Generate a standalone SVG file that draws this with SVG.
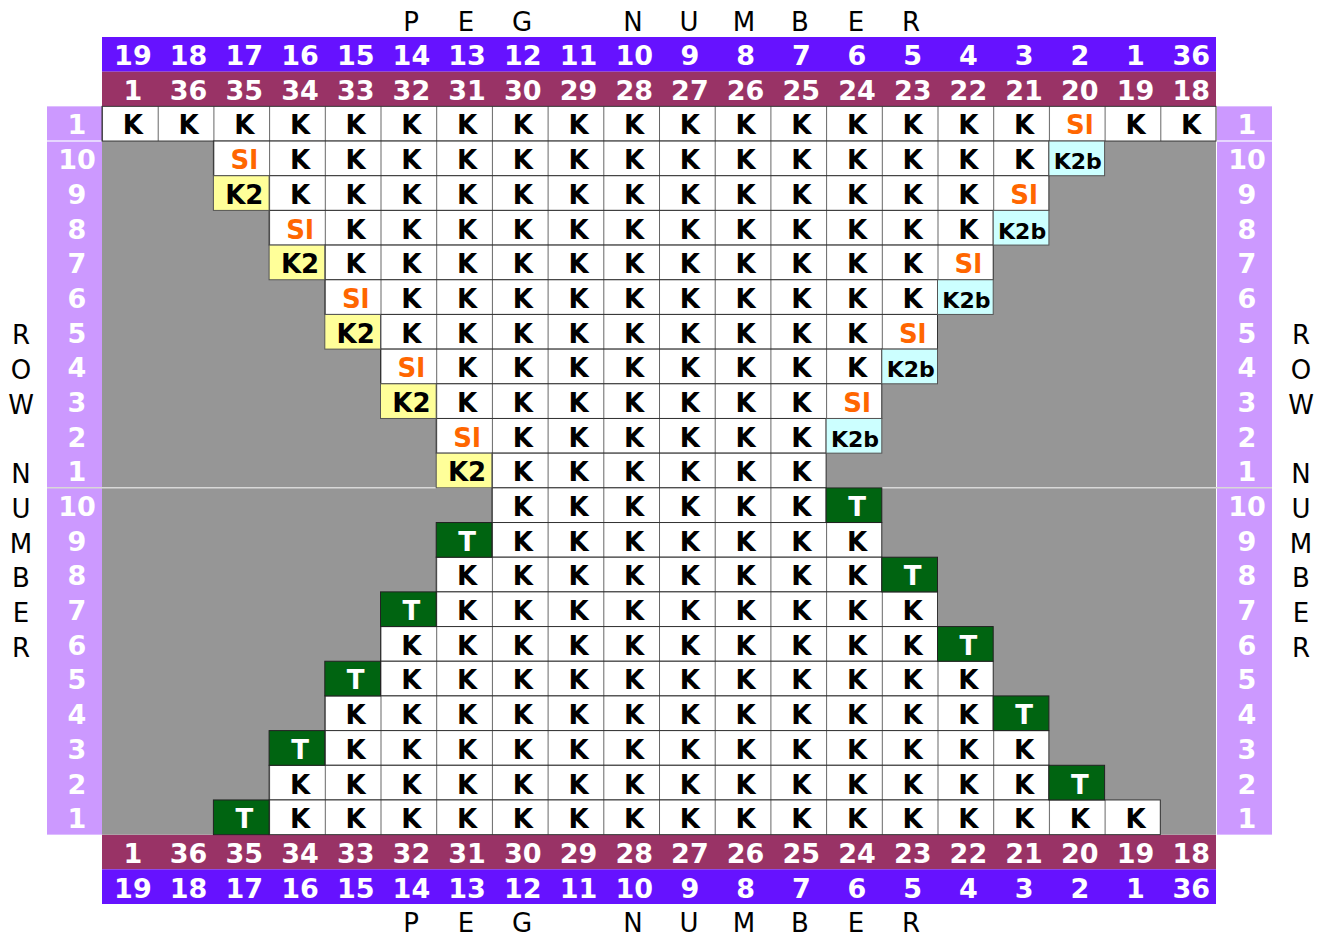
<svg xmlns="http://www.w3.org/2000/svg" width="1323" height="936" viewBox="0 0 1323 936">
<style>
.bg{fill:#fff}
.hd text{font:bold 27px "DejaVu Sans",Verdana,sans-serif;fill:#fff;text-anchor:middle}
.lb text{font:bold 27px "DejaVu Sans",Verdana,sans-serif;fill:#fff;text-anchor:middle}
.ttl text{font:26px "DejaVu Sans",Verdana,sans-serif;fill:#000;text-anchor:middle}
.k text{font:bold 26px "DejaVu Sans",Verdana,sans-serif;fill:#000;text-anchor:middle}
.k text.s{fill:#FF6600}
.k text.b{font-size:22px}
.k text.t{fill:#fff}
.span{fill:url(#cell);stroke:#333;stroke-width:1}
.y{fill:#FFFF99;stroke:#555;stroke-width:1}
.c{fill:#CCFFFF;stroke:#555;stroke-width:1}
.g{fill:#006411;stroke:#222;stroke-width:1}
</style>
<defs>
<pattern id="cell" patternUnits="userSpaceOnUse" x="102" y="37" width="55.7" height="34.68">
<rect width="55.7" height="34.68" fill="#fff"/>
<path d="M0.5 0V34.68" stroke="#666" stroke-width="1"/>
</pattern>
</defs>
<rect class="bg" width="1323" height="936"/>
<g id="titles" class="ttl">
<text x="411" y="31">P</text><text x="466" y="31">E</text><text x="522" y="31">G</text><text x="633" y="31">N</text><text x="689" y="31">U</text><text x="744" y="31">M</text><text x="800" y="31">B</text><text x="856" y="31">E</text><text x="911" y="31">R</text>
<text x="411" y="932">P</text><text x="466" y="932">E</text><text x="522" y="932">G</text><text x="633" y="932">N</text><text x="689" y="932">U</text><text x="744" y="932">M</text><text x="800" y="932">B</text><text x="856" y="932">E</text><text x="911" y="932">R</text>
<text x="21" y="344.4">R</text><text x="21" y="379.1">O</text><text x="21" y="413.8">W</text><text x="21" y="483.2">N</text><text x="21" y="517.8">U</text><text x="21" y="552.5">M</text><text x="21" y="587.2">B</text><text x="21" y="621.9">E</text><text x="21" y="656.6">R</text>
<text x="1301" y="344.4">R</text><text x="1301" y="379.1">O</text><text x="1301" y="413.8">W</text><text x="1301" y="483.2">N</text><text x="1301" y="517.8">U</text><text x="1301" y="552.5">M</text><text x="1301" y="587.2">B</text><text x="1301" y="621.9">E</text><text x="1301" y="656.6">R</text>
</g>
<g id="header-top" class="hd">
<rect x="102" y="37" width="1114" height="34.68" fill="#6612FF"/>
<rect x="102" y="71.68" width="1114" height="34.68" fill="#993366"/>
<g transform="translate(0,65.3)">
<text x="132.9">19</text><text x="188.6">18</text><text x="244.3">17</text><text x="300">16</text><text x="355.7">15</text><text x="411.4">14</text><text x="467.1">13</text><text x="522.8">12</text><text x="578.5">11</text><text x="634.2">10</text><text x="689.9">9</text><text x="745.6">8</text><text x="801.3">7</text><text x="857">6</text><text x="912.7">5</text><text x="968.4">4</text><text x="1024.1">3</text><text x="1079.8">2</text><text x="1135.5">1</text><text x="1191.2">36</text>
</g>
<g transform="translate(0,100)">
<text x="132.9">1</text><text x="188.6">36</text><text x="244.3">35</text><text x="300">34</text><text x="355.7">33</text><text x="411.4">32</text><text x="467.1">31</text><text x="522.8">30</text><text x="578.5">29</text><text x="634.2">28</text><text x="689.9">27</text><text x="745.6">26</text><text x="801.3">25</text><text x="857">24</text><text x="912.7">23</text><text x="968.4">22</text><text x="1024.1">21</text><text x="1079.8">20</text><text x="1135.5">19</text><text x="1191.2">18</text>
</g>
</g>
<g id="header-bottom" class="hd">
<rect x="102" y="834.64" width="1114" height="34.68" fill="#993366"/>
<rect x="102" y="869.32" width="1114" height="34.68" fill="#6612FF"/>
<g transform="translate(0,862.9)">
<text x="132.9">1</text><text x="188.6">36</text><text x="244.3">35</text><text x="300">34</text><text x="355.7">33</text><text x="411.4">32</text><text x="467.1">31</text><text x="522.8">30</text><text x="578.5">29</text><text x="634.2">28</text><text x="689.9">27</text><text x="745.6">26</text><text x="801.3">25</text><text x="857">24</text><text x="912.7">23</text><text x="968.4">22</text><text x="1024.1">21</text><text x="1079.8">20</text><text x="1135.5">19</text><text x="1191.2">18</text>
</g>
<g transform="translate(0,897.6)">
<text x="132.9">19</text><text x="188.6">18</text><text x="244.3">17</text><text x="300">16</text><text x="355.7">15</text><text x="411.4">14</text><text x="467.1">13</text><text x="522.8">12</text><text x="578.5">11</text><text x="634.2">10</text><text x="689.9">9</text><text x="745.6">8</text><text x="801.3">7</text><text x="857">6</text><text x="912.7">5</text><text x="968.4">4</text><text x="1024.1">3</text><text x="1079.8">2</text><text x="1135.5">1</text><text x="1191.2">36</text>
</g>
</g>
<g id="row-labels" class="lb">
<rect x="47" y="106.36" width="55" height="728.28" fill="#CC99FF"/>
<rect x="1217" y="106.36" width="55" height="728.28" fill="#CC99FF"/>
<path d="M47 141H102M1217 141H1272" stroke="#E6D6FF" stroke-width="2"/>
<text x="77" y="134.4">1</text><text x="77" y="169.1">10</text><text x="77" y="203.8">9</text><text x="77" y="238.5">8</text><text x="77" y="273.2">7</text><text x="77" y="307.9">6</text><text x="77" y="342.6">5</text><text x="77" y="377.2">4</text><text x="77" y="411.9">3</text><text x="77" y="446.6">2</text><text x="77" y="481.3">1</text>
<text x="77" y="516">10</text><text x="77" y="550.7">9</text><text x="77" y="585.4">8</text><text x="77" y="620.1">7</text><text x="77" y="654.8">6</text><text x="77" y="689.4">5</text><text x="77" y="724.1">4</text><text x="77" y="758.8">3</text><text x="77" y="793.5">2</text><text x="77" y="828.2">1</text>
<text x="1247" y="134.4">1</text><text x="1247" y="169.1">10</text><text x="1247" y="203.8">9</text><text x="1247" y="238.5">8</text><text x="1247" y="273.2">7</text><text x="1247" y="307.9">6</text><text x="1247" y="342.6">5</text><text x="1247" y="377.2">4</text><text x="1247" y="411.9">3</text><text x="1247" y="446.6">2</text><text x="1247" y="481.3">1</text>
<text x="1247" y="516">10</text><text x="1247" y="550.7">9</text><text x="1247" y="585.4">8</text><text x="1247" y="620.1">7</text><text x="1247" y="654.8">6</text><text x="1247" y="689.4">5</text><text x="1247" y="724.1">4</text><text x="1247" y="758.8">3</text><text x="1247" y="793.5">2</text><text x="1247" y="828.2">1</text>
</g>
<g id="grid-background">
<rect x="102" y="141.04" width="1114" height="693.6" fill="#969696"/>
<path d="M47 487.8H1272" stroke="#D8D8D8" stroke-width="1.5"/>
</g>
<g id="cells">
<rect class="span" x="102" y="106.36" width="1114" height="34.68"/>
<rect class="span" x="213.4" y="141.04" width="835.5" height="34.68"/>
<rect class="span" x="269.1" y="175.72" width="779.8" height="34.68"/>
<rect class="span" x="269.1" y="210.4" width="724.1" height="34.68"/>
<rect class="span" x="324.8" y="245.08" width="668.4" height="34.68"/>
<rect class="span" x="324.8" y="279.76" width="612.7" height="34.68"/>
<rect class="span" x="380.5" y="314.44" width="557" height="34.68"/>
<rect class="span" x="380.5" y="349.12" width="501.3" height="34.68"/>
<rect class="span" x="436.2" y="383.8" width="445.6" height="34.68"/>
<rect class="span" x="436.2" y="418.48" width="389.9" height="34.68"/>
<rect class="span" x="491.9" y="453.16" width="334.2" height="34.68"/>
<rect class="span" x="491.9" y="487.84" width="334.2" height="34.68"/>
<rect class="span" x="491.9" y="522.52" width="389.9" height="34.68"/>
<rect class="span" x="436.2" y="557.2" width="445.6" height="34.68"/>
<rect class="span" x="436.2" y="591.88" width="501.3" height="34.68"/>
<rect class="span" x="380.5" y="626.56" width="557" height="34.68"/>
<rect class="span" x="380.5" y="661.24" width="612.7" height="34.68"/>
<rect class="span" x="324.8" y="695.92" width="668.4" height="34.68"/>
<rect class="span" x="324.8" y="730.6" width="724.1" height="34.68"/>
<rect class="span" x="269.1" y="765.28" width="779.8" height="34.68"/>
<rect class="span" x="269.1" y="799.96" width="891.2" height="34.68"/>
<rect class="c" x="1048.9" y="141.04" width="55.7" height="34.68"/>
<rect class="c" x="993.2" y="210.4" width="55.7" height="34.68"/>
<rect class="c" x="937.5" y="279.76" width="55.7" height="34.68"/>
<rect class="c" x="881.8" y="349.12" width="55.7" height="34.68"/>
<rect class="c" x="826.1" y="418.48" width="55.7" height="34.68"/>
<rect class="y" x="213.4" y="175.72" width="55.7" height="34.68"/>
<rect class="y" x="269.1" y="245.08" width="55.7" height="34.68"/>
<rect class="y" x="324.8" y="314.44" width="55.7" height="34.68"/>
<rect class="y" x="380.5" y="383.8" width="55.7" height="34.68"/>
<rect class="y" x="436.2" y="453.16" width="55.7" height="34.68"/>
<rect class="g" x="826.1" y="487.84" width="55.7" height="34.68"/>
<rect class="g" x="436.2" y="522.52" width="55.7" height="34.68"/>
<rect class="g" x="881.8" y="557.2" width="55.7" height="34.68"/>
<rect class="g" x="380.5" y="591.88" width="55.7" height="34.68"/>
<rect class="g" x="937.5" y="626.56" width="55.7" height="34.68"/>
<rect class="g" x="324.8" y="661.24" width="55.7" height="34.68"/>
<rect class="g" x="993.2" y="695.92" width="55.7" height="34.68"/>
<rect class="g" x="269.1" y="730.6" width="55.7" height="34.68"/>
<rect class="g" x="1048.9" y="765.28" width="55.7" height="34.68"/>
<rect class="g" x="213.4" y="799.96" width="55.7" height="34.68"/>
</g>
<g id="stitches" class="k">
<g id="r-top-1" transform="translate(0,134.4)"><text x="132.9">K</text><text x="188.6">K</text><text x="244.3">K</text><text x="300">K</text><text x="355.7">K</text><text x="411.4">K</text><text x="467.1">K</text><text x="522.8">K</text><text x="578.5">K</text><text x="634.2">K</text><text x="689.9">K</text><text x="745.6">K</text><text x="801.3">K</text><text x="857">K</text><text x="912.7">K</text><text x="968.4">K</text><text x="1024.1">K</text><text class="s" x="1079.8">Sl</text><text x="1135.5">K</text><text x="1191.2">K</text></g>
<g id="r-a10" transform="translate(0,169.1)"><text class="s" x="244.3">Sl</text><text x="300">K</text><text x="355.7">K</text><text x="411.4">K</text><text x="467.1">K</text><text x="522.8">K</text><text x="578.5">K</text><text x="634.2">K</text><text x="689.9">K</text><text x="745.6">K</text><text x="801.3">K</text><text x="857">K</text><text x="912.7">K</text><text x="968.4">K</text><text x="1024.1">K</text><text class="b" x="1077.8">K2b</text></g>
<g id="r-a9" transform="translate(0,203.8)"><text x="244.3">K2</text><text x="300">K</text><text x="355.7">K</text><text x="411.4">K</text><text x="467.1">K</text><text x="522.8">K</text><text x="578.5">K</text><text x="634.2">K</text><text x="689.9">K</text><text x="745.6">K</text><text x="801.3">K</text><text x="857">K</text><text x="912.7">K</text><text x="968.4">K</text><text class="s" x="1024.1">Sl</text></g>
<g id="r-a8" transform="translate(0,238.5)"><text class="s" x="300">Sl</text><text x="355.7">K</text><text x="411.4">K</text><text x="467.1">K</text><text x="522.8">K</text><text x="578.5">K</text><text x="634.2">K</text><text x="689.9">K</text><text x="745.6">K</text><text x="801.3">K</text><text x="857">K</text><text x="912.7">K</text><text x="968.4">K</text><text class="b" x="1022.1">K2b</text></g>
<g id="r-a7" transform="translate(0,273.2)"><text x="300">K2</text><text x="355.7">K</text><text x="411.4">K</text><text x="467.1">K</text><text x="522.8">K</text><text x="578.5">K</text><text x="634.2">K</text><text x="689.9">K</text><text x="745.6">K</text><text x="801.3">K</text><text x="857">K</text><text x="912.7">K</text><text class="s" x="968.4">Sl</text></g>
<g id="r-a6" transform="translate(0,307.9)"><text class="s" x="355.7">Sl</text><text x="411.4">K</text><text x="467.1">K</text><text x="522.8">K</text><text x="578.5">K</text><text x="634.2">K</text><text x="689.9">K</text><text x="745.6">K</text><text x="801.3">K</text><text x="857">K</text><text x="912.7">K</text><text class="b" x="966.4">K2b</text></g>
<g id="r-a5" transform="translate(0,342.6)"><text x="355.7">K2</text><text x="411.4">K</text><text x="467.1">K</text><text x="522.8">K</text><text x="578.5">K</text><text x="634.2">K</text><text x="689.9">K</text><text x="745.6">K</text><text x="801.3">K</text><text x="857">K</text><text class="s" x="912.7">Sl</text></g>
<g id="r-a4" transform="translate(0,377.2)"><text class="s" x="411.4">Sl</text><text x="467.1">K</text><text x="522.8">K</text><text x="578.5">K</text><text x="634.2">K</text><text x="689.9">K</text><text x="745.6">K</text><text x="801.3">K</text><text x="857">K</text><text class="b" x="910.7">K2b</text></g>
<g id="r-a3" transform="translate(0,411.9)"><text x="411.4">K2</text><text x="467.1">K</text><text x="522.8">K</text><text x="578.5">K</text><text x="634.2">K</text><text x="689.9">K</text><text x="745.6">K</text><text x="801.3">K</text><text class="s" x="857">Sl</text></g>
<g id="r-a2" transform="translate(0,446.6)"><text class="s" x="467.1">Sl</text><text x="522.8">K</text><text x="578.5">K</text><text x="634.2">K</text><text x="689.9">K</text><text x="745.6">K</text><text x="801.3">K</text><text class="b" x="855">K2b</text></g>
<g id="r-a1" transform="translate(0,481.3)"><text x="467.1">K2</text><text x="522.8">K</text><text x="578.5">K</text><text x="634.2">K</text><text x="689.9">K</text><text x="745.6">K</text><text x="801.3">K</text></g>
<g id="r-b10" transform="translate(0,516)"><text x="522.8">K</text><text x="578.5">K</text><text x="634.2">K</text><text x="689.9">K</text><text x="745.6">K</text><text x="801.3">K</text><text class="t" x="857">T</text></g>
<g id="r-b9" transform="translate(0,550.7)"><text class="t" x="467.1">T</text><text x="522.8">K</text><text x="578.5">K</text><text x="634.2">K</text><text x="689.9">K</text><text x="745.6">K</text><text x="801.3">K</text><text x="857">K</text></g>
<g id="r-b8" transform="translate(0,585.4)"><text x="467.1">K</text><text x="522.8">K</text><text x="578.5">K</text><text x="634.2">K</text><text x="689.9">K</text><text x="745.6">K</text><text x="801.3">K</text><text x="857">K</text><text class="t" x="912.7">T</text></g>
<g id="r-b7" transform="translate(0,620.1)"><text class="t" x="411.4">T</text><text x="467.1">K</text><text x="522.8">K</text><text x="578.5">K</text><text x="634.2">K</text><text x="689.9">K</text><text x="745.6">K</text><text x="801.3">K</text><text x="857">K</text><text x="912.7">K</text></g>
<g id="r-b6" transform="translate(0,654.8)"><text x="411.4">K</text><text x="467.1">K</text><text x="522.8">K</text><text x="578.5">K</text><text x="634.2">K</text><text x="689.9">K</text><text x="745.6">K</text><text x="801.3">K</text><text x="857">K</text><text x="912.7">K</text><text class="t" x="968.4">T</text></g>
<g id="r-b5" transform="translate(0,689.4)"><text class="t" x="355.7">T</text><text x="411.4">K</text><text x="467.1">K</text><text x="522.8">K</text><text x="578.5">K</text><text x="634.2">K</text><text x="689.9">K</text><text x="745.6">K</text><text x="801.3">K</text><text x="857">K</text><text x="912.7">K</text><text x="968.4">K</text></g>
<g id="r-b4" transform="translate(0,724.1)"><text x="355.7">K</text><text x="411.4">K</text><text x="467.1">K</text><text x="522.8">K</text><text x="578.5">K</text><text x="634.2">K</text><text x="689.9">K</text><text x="745.6">K</text><text x="801.3">K</text><text x="857">K</text><text x="912.7">K</text><text x="968.4">K</text><text class="t" x="1024.1">T</text></g>
<g id="r-b3" transform="translate(0,758.8)"><text class="t" x="300">T</text><text x="355.7">K</text><text x="411.4">K</text><text x="467.1">K</text><text x="522.8">K</text><text x="578.5">K</text><text x="634.2">K</text><text x="689.9">K</text><text x="745.6">K</text><text x="801.3">K</text><text x="857">K</text><text x="912.7">K</text><text x="968.4">K</text><text x="1024.1">K</text></g>
<g id="r-b2" transform="translate(0,793.5)"><text x="300">K</text><text x="355.7">K</text><text x="411.4">K</text><text x="467.1">K</text><text x="522.8">K</text><text x="578.5">K</text><text x="634.2">K</text><text x="689.9">K</text><text x="745.6">K</text><text x="801.3">K</text><text x="857">K</text><text x="912.7">K</text><text x="968.4">K</text><text x="1024.1">K</text><text class="t" x="1079.8">T</text></g>
<g id="r-b1" transform="translate(0,828.2)"><text class="t" x="244.3">T</text><text x="300">K</text><text x="355.7">K</text><text x="411.4">K</text><text x="467.1">K</text><text x="522.8">K</text><text x="578.5">K</text><text x="634.2">K</text><text x="689.9">K</text><text x="745.6">K</text><text x="801.3">K</text><text x="857">K</text><text x="912.7">K</text><text x="968.4">K</text><text x="1024.1">K</text><text x="1079.8">K</text><text x="1135.5">K</text></g>
</g>
</svg>
